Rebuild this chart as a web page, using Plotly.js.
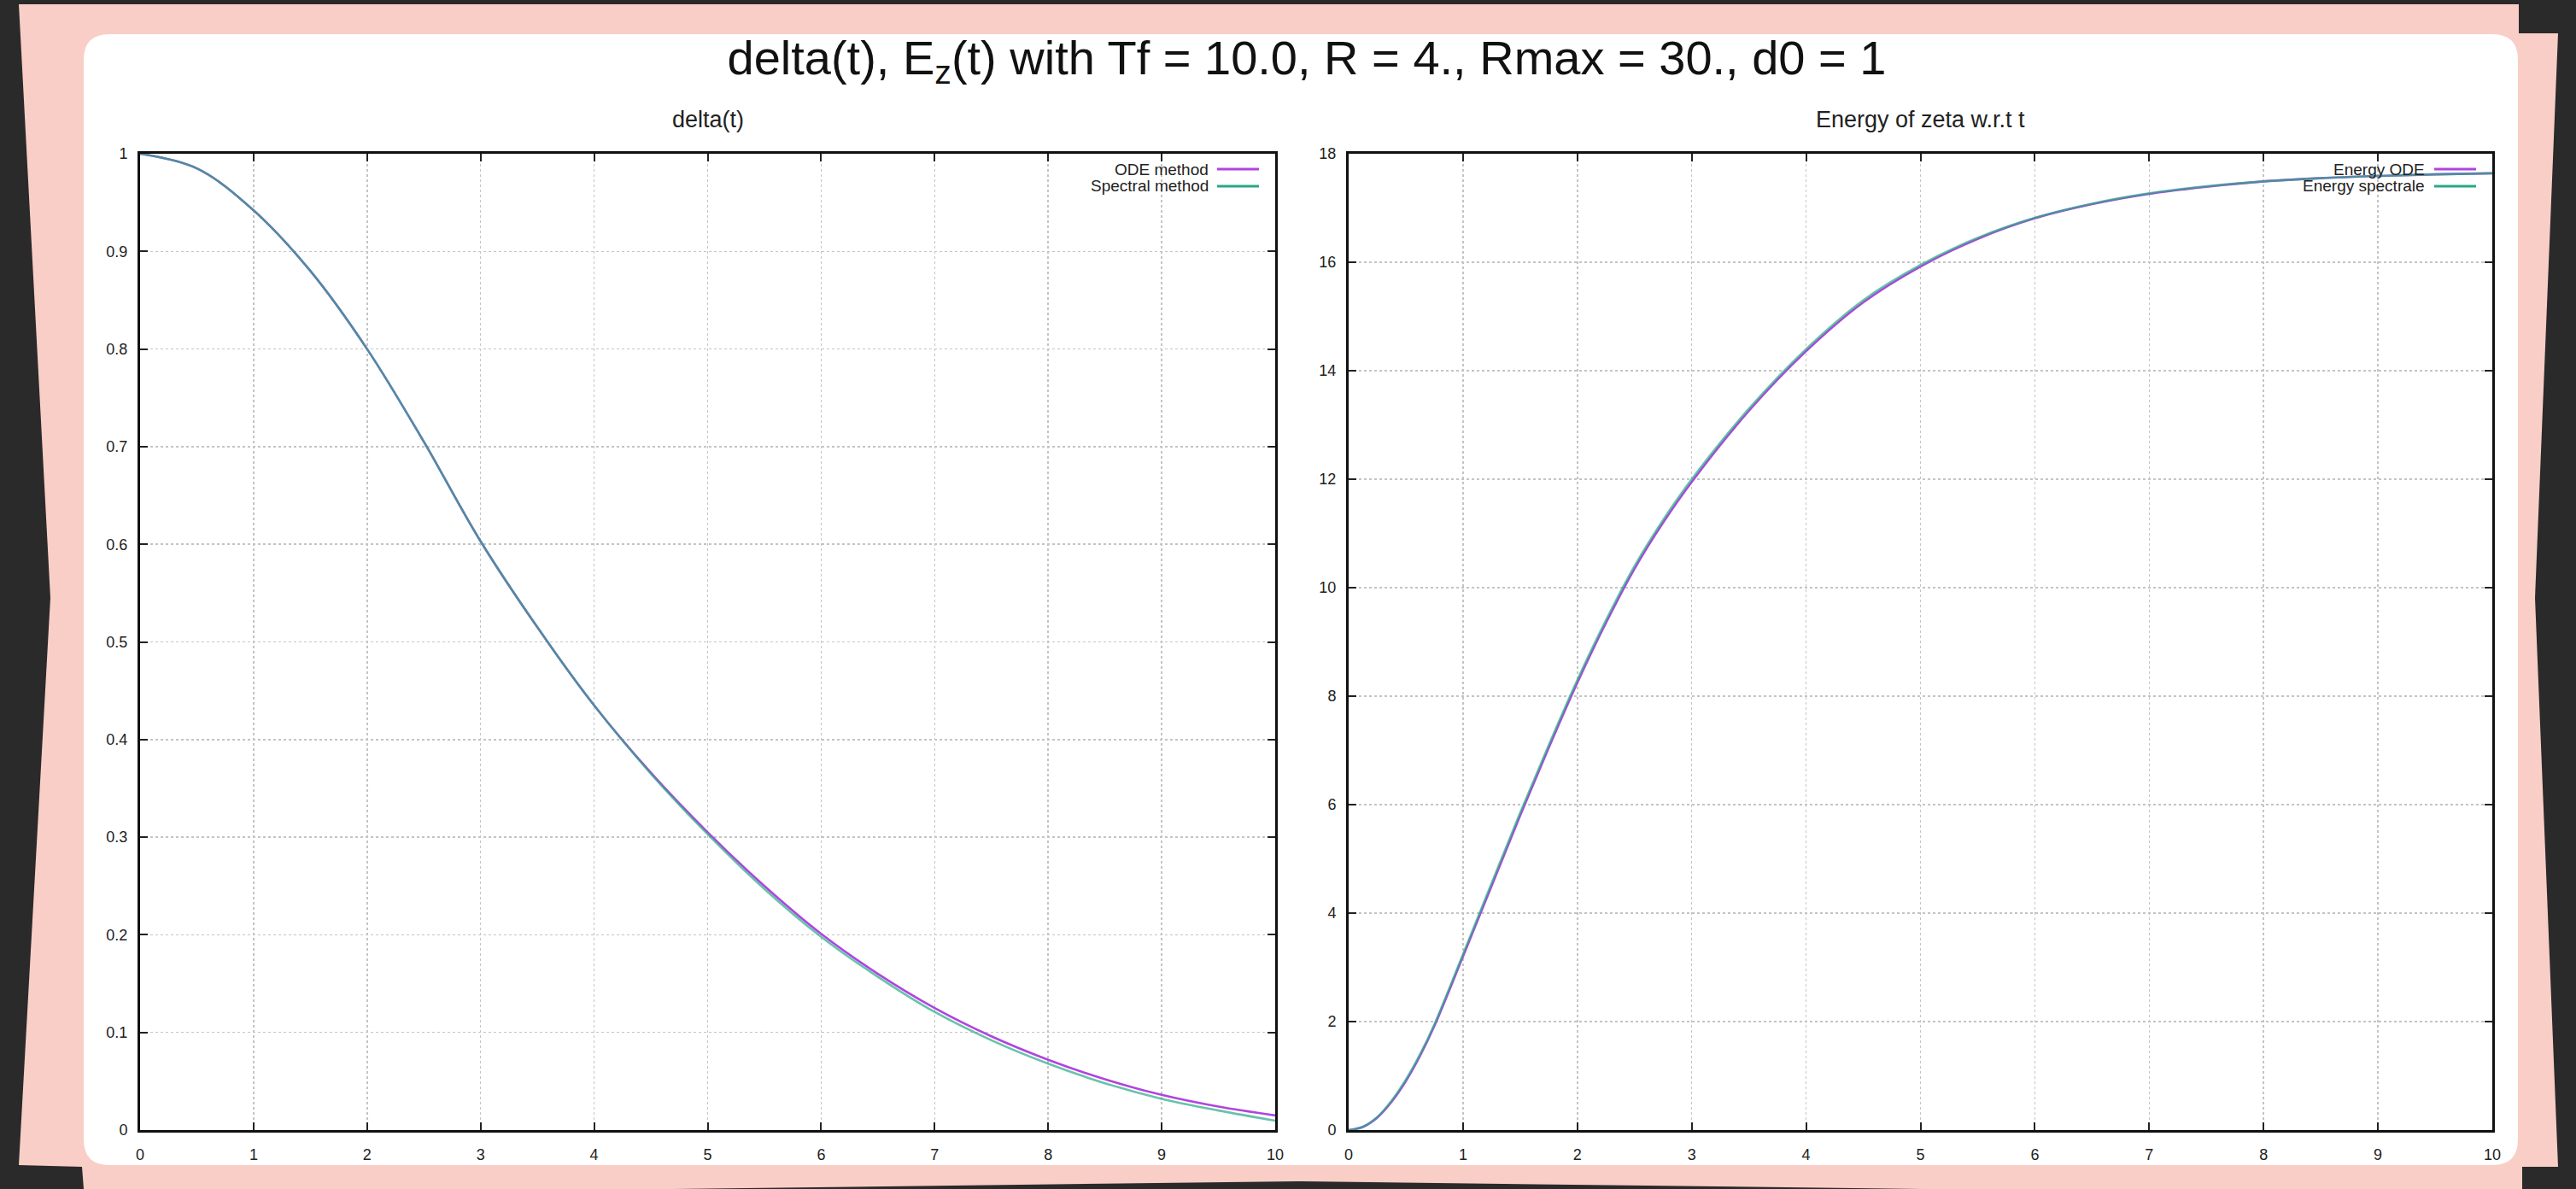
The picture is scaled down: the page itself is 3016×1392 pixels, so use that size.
<!DOCTYPE html>
<html>
<head>
<meta charset="utf-8">
<script src="https://cdn.plot.ly/plotly-3.0.1.min.js"></script>
<style>
html,body{margin:0;padding:0;background:#2a2a2a;}
#chart{width:3016px;height:1392px;}
</style>
</head>
<body>
<div id="chart"></div>
<script>
// ---- data ----
const tDelta = [0,0.5,1,1.5,2,2.5,3,3.5,4,4.5,5,5.5,6,6.5,7,7.5,8,8.5,9,9.5,10];
const deltaODE = [1.0,0.985,0.942,0.880,0.800,0.705,0.603,0.515,0.435,0.366,0.305,0.250,0.201,0.160,0.125,0.096,0.072,0.052,0.036,0.024,0.015];
const deltaSpectral = [1.0,0.985,0.942,0.880,0.800,0.705,0.603,0.515,0.435,0.365,0.303,0.247,0.198,0.157,0.121,0.092,0.068,0.048,0.032,0.020,0.0096];

const tEnergy = [0,0.125,0.25,0.375,0.5,0.625,0.75,1,1.25,1.5,1.75,2,2.25,2.5,2.75,3,3.5,4,4.5,5,5.5,6,6.5,7,7.5,8,8.5,9,9.5,10];
const energyODE = [0,0.06,0.23,0.52,0.9,1.37,1.92,3.2,4.5,5.8,7.05,8.25,9.35,10.35,11.2,11.95,13.26,14.36,15.26,15.92,16.43,16.81,17.07,17.26,17.39,17.49,17.55,17.59,17.62,17.64];
const energySpectral = [0,0.06,0.24,0.54,0.93,1.4,1.95,3.24,4.55,5.85,7.1,8.3,9.4,10.4,11.25,12.0,13.3,14.4,15.3,15.95,16.45,16.82,17.08,17.27,17.4,17.49,17.55,17.59,17.62,17.64];

const xTicks = [0,1,2,3,4,5,6,7,8,9,10];
const legendLeft = ['ODE method','Spectral method'];
const legendRight = ['Energy ODE','Energy spectrale'];
const mainTitle = 'delta(t), E<sub>z</sub>(t) with Tf = 10.0, R = 4., Rmax = 30., d0 = 1';
const subTitles = ['delta(t)','Energy of zeta w.r.t t'];

// ---- geometry helpers (pixels -> paper) ----
const W = 3016, H = 1392;
const px = x => x / W;
const py = y => 1 - y / H;
function poly(pts){ return 'M' + pts.map(p => px(p[0]) + ',' + py(p[1])).join('L') + 'Z'; }
function roundRect(x0,y0,x1,y1,r){
  const rx = r / W, ry = r / H;
  const X0=px(x0),X1=px(x1),Y0=py(y0),Y1=py(y1);
  return `M${X0+rx},${Y0}L${X1-rx},${Y0}Q${X1},${Y0} ${X1},${Y0-ry}L${X1},${Y1+ry}Q${X1},${Y1} ${X1-rx},${Y1}L${X0+rx},${Y1}Q${X0},${Y1} ${X0},${Y1+ry}L${X0},${Y0-ry}Q${X0},${Y0} ${X0+rx},${Y0}Z`;
}

const DARK = '#2a2a2a', PINK = '#f9cec7';
const C_ODE = '#b044e0', C_SPEC = '#2aa888';
const FONT = 'Liberation Sans, Arial, sans-serif';

const L = {x0:164, x1:1493}, R = {x0:1579, x1:2918}, Y = {top:180, bot:1323};

const darkShapes = [
  [[0,0],[3016,0],[3016,5],[0,5]],
  [[0,0],[20,0],[22,5],[59,700],[22,1364],[96,1366],[98,1392],[0,1392]],
  [[2949,0],[3016,0],[3016,39],[2949,39]],
  [[3016,39],[2995,39],[2968,700],[2995,1366],[3016,1366]],
  [[2953,1366],[3016,1366],[3016,1392],[2953,1392]],
  [[789,1392],[1520,1383],[2250,1392]]
];

const shapes = darkShapes.map(p => ({type:'path', xref:'paper', yref:'paper', path:poly(p), fillcolor:DARK, line:{width:0}, layer:'below'}));
shapes.push({type:'path', xref:'paper', yref:'paper', path:roundRect(98,40,2948,1364,30), fillcolor:'#ffffff', line:{width:0}, layer:'below'});

// legend samples
function legendSample(xa, xb, y, color){
  return {type:'line', xref:'paper', yref:'paper', x0:px(xa), x1:px(xb), y0:py(y), y1:py(y), line:{color:color, width:3}, layer:'above'};
}
shapes.push(legendSample(1425,1474,198,C_ODE));
shapes.push(legendSample(1425,1474,218,C_SPEC));
shapes.push(legendSample(2850,2899,198,C_ODE));
shapes.push(legendSample(2850,2899,218,C_SPEC));

function legendText(text, xr, y){
  return {text:text, xref:'paper', yref:'paper', x:px(xr), y:py(y), xanchor:'right', yanchor:'middle', showarrow:false, font:{family:FONT, size:19, color:'#222'}};
}
const annotations = [
  {text:subTitles[0], xref:'paper', yref:'paper', x:px((L.x0+L.x1)/2), y:py(140), xanchor:'center', yanchor:'middle', showarrow:false, font:{family:FONT, size:27, color:'#222'}},
  {text:subTitles[1], xref:'paper', yref:'paper', x:px((R.x0+R.x1)/2), y:py(140), xanchor:'center', yanchor:'middle', showarrow:false, font:{family:FONT, size:27, color:'#222'}},
  legendText(legendLeft[0],1417,198),
  legendText(legendLeft[1],1417,218),
  legendText(legendRight[0],2841,198),
  legendText(legendRight[1],2841,218)
];

const axisCommon = {
  showline:true, linecolor:'#111', linewidth:3, mirror:'ticks',
  ticks:'inside', ticklen:9, tickwidth:2, tickcolor:'#222',
  showgrid:true, gridcolor:'#c4c4c4', griddash:'dot', gridwidth:1.5,
  zeroline:false, fixedrange:true,
  tickfont:{family:FONT, size:18, color:'#222'}
};

const traces = [
  {x:tDelta, y:deltaODE, name:legendLeft[0], xaxis:'x', yaxis:'y', mode:'lines', line:{color:C_ODE, width:2.6, shape:'spline', smoothing:1}},
  {x:tDelta, y:deltaSpectral, name:legendLeft[1], xaxis:'x', yaxis:'y', mode:'lines', opacity:0.7, line:{color:C_SPEC, width:2.6, shape:'spline', smoothing:1}},
  {x:tEnergy, y:energyODE, name:legendRight[0], xaxis:'x2', yaxis:'y2', mode:'lines', line:{color:C_ODE, width:2.6, shape:'spline', smoothing:1}},
  {x:tEnergy, y:energySpectral, name:legendRight[1], xaxis:'x2', yaxis:'y2', mode:'lines', opacity:0.7, line:{color:C_SPEC, width:2.6, shape:'spline', smoothing:1}}
];

const yDom = [py(Y.bot), py(Y.top)];
const layout = {
  width:W, height:H,
  margin:{l:0,r:0,t:0,b:0,pad:0},
  paper_bgcolor:PINK, plot_bgcolor:'rgba(0,0,0,0)',
  showlegend:false,
  title:{text:mainTitle, x:px(1530), xanchor:'center', y:py(67), yanchor:'middle', font:{family:FONT, size:56, color:'#111'}},
  xaxis:Object.assign({}, axisCommon, {domain:[px(L.x0),px(L.x1)], range:[0,10], tickvals:xTicks, ticklabelstandoff:10, anchor:'y'}),
  yaxis:Object.assign({}, axisCommon, {domain:yDom, range:[0,1], dtick:0.1, tick0:0, ticklabelstandoff:8, anchor:'x'}),
  xaxis2:Object.assign({}, axisCommon, {domain:[px(R.x0),px(R.x1)], range:[0,10], tickvals:xTicks, ticklabelstandoff:10, anchor:'y2'}),
  yaxis2:Object.assign({}, axisCommon, {domain:yDom, range:[0,18], dtick:2, tick0:0, ticklabelstandoff:8, anchor:'x2'}),
  shapes:shapes,
  annotations:annotations
};

Plotly.newPlot('chart', traces, layout, {staticPlot:true, displayModeBar:false});
</script>
</body>
</html>
